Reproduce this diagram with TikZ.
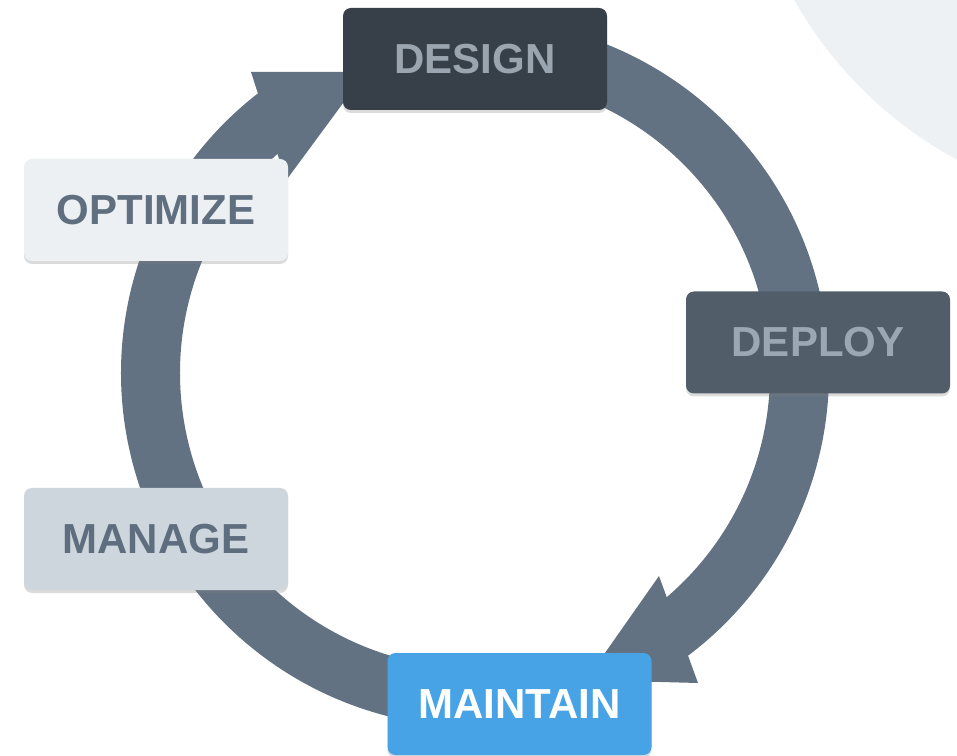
\documentclass[tikz,border=0pt]{standalone}
\usepackage{fontspec}
\setmainfont{Liberation Sans}
\usetikzlibrary{shadows,calc}
\definecolor{ringc}{HTML}{627282}
\definecolor{bgc}{HTML}{EEF1F3}
\definecolor{designfill}{HTML}{373F48}
\definecolor{designtext}{HTML}{9AA5B0}
\definecolor{deployfill}{HTML}{515D68}
\definecolor{deploytext}{HTML}{9BA7B2}
\definecolor{optfill}{HTML}{EDF0F3}
\definecolor{opttext}{HTML}{5F6F7F}
\definecolor{manfill}{HTML}{CDD5DD}
\definecolor{mantext}{HTML}{5F6E7E}
\definecolor{maintfill}{HTML}{47A3E6}
\begin{document}
\begin{tikzpicture}[x=1pt,y=1pt,
  box/.style={rounded corners=8pt, minimum width=264pt, minimum height=102pt,
    inner sep=0pt, font=\fontsize{42}{42}\selectfont\bfseries,
    drop shadow={shadow xshift=0pt, shadow yshift=-3pt, opacity=0.28}},
  ringarc/.style={draw=ringc, line width=59pt, line cap=butt},
  head/.style={fill=ringc}]
\useasboundingbox (0,0) rectangle (957,755);
\clip (0,0) rectangle (957,755);
\fill[white] (0,0) rectangle (957,755);
\fill[bgc] (1150,955) circle[radius=408];
\coordinate (C) at (475,382);
% ring arrows
\draw[ringarc] ($(C)+(-80:324.5)$) arc[start angle=-80, end angle=-233, radius=324.5];
\draw[ringarc] ($(C)+(-265:324.5)$) arc[start angle=-265, end angle=-413.5, radius=324.5];
\fill[head] (251,683) -- (366,683) -- (286,574.5) -- cycle;
\fill[head] (698,72) -- (659,179) -- (586,75) -- cycle;
% boxes
\node[box, fill=designfill, text=designtext] (design) at (475,696) {DESIGN};
\node[box, fill=deployfill, text=deploytext] (deploy) at (818,412.5) {DEPLOY};
\node[box, fill=optfill, text=opttext] (optimize) at (156,545) {OPTIMIZE};
\node[box, fill=manfill, text=mantext] (manage) at (156,216) {MANAGE};
\node[box, fill=maintfill, text=white] (maintain) at (519.5,51) {MAINTAIN};
\end{tikzpicture}
\end{document}
